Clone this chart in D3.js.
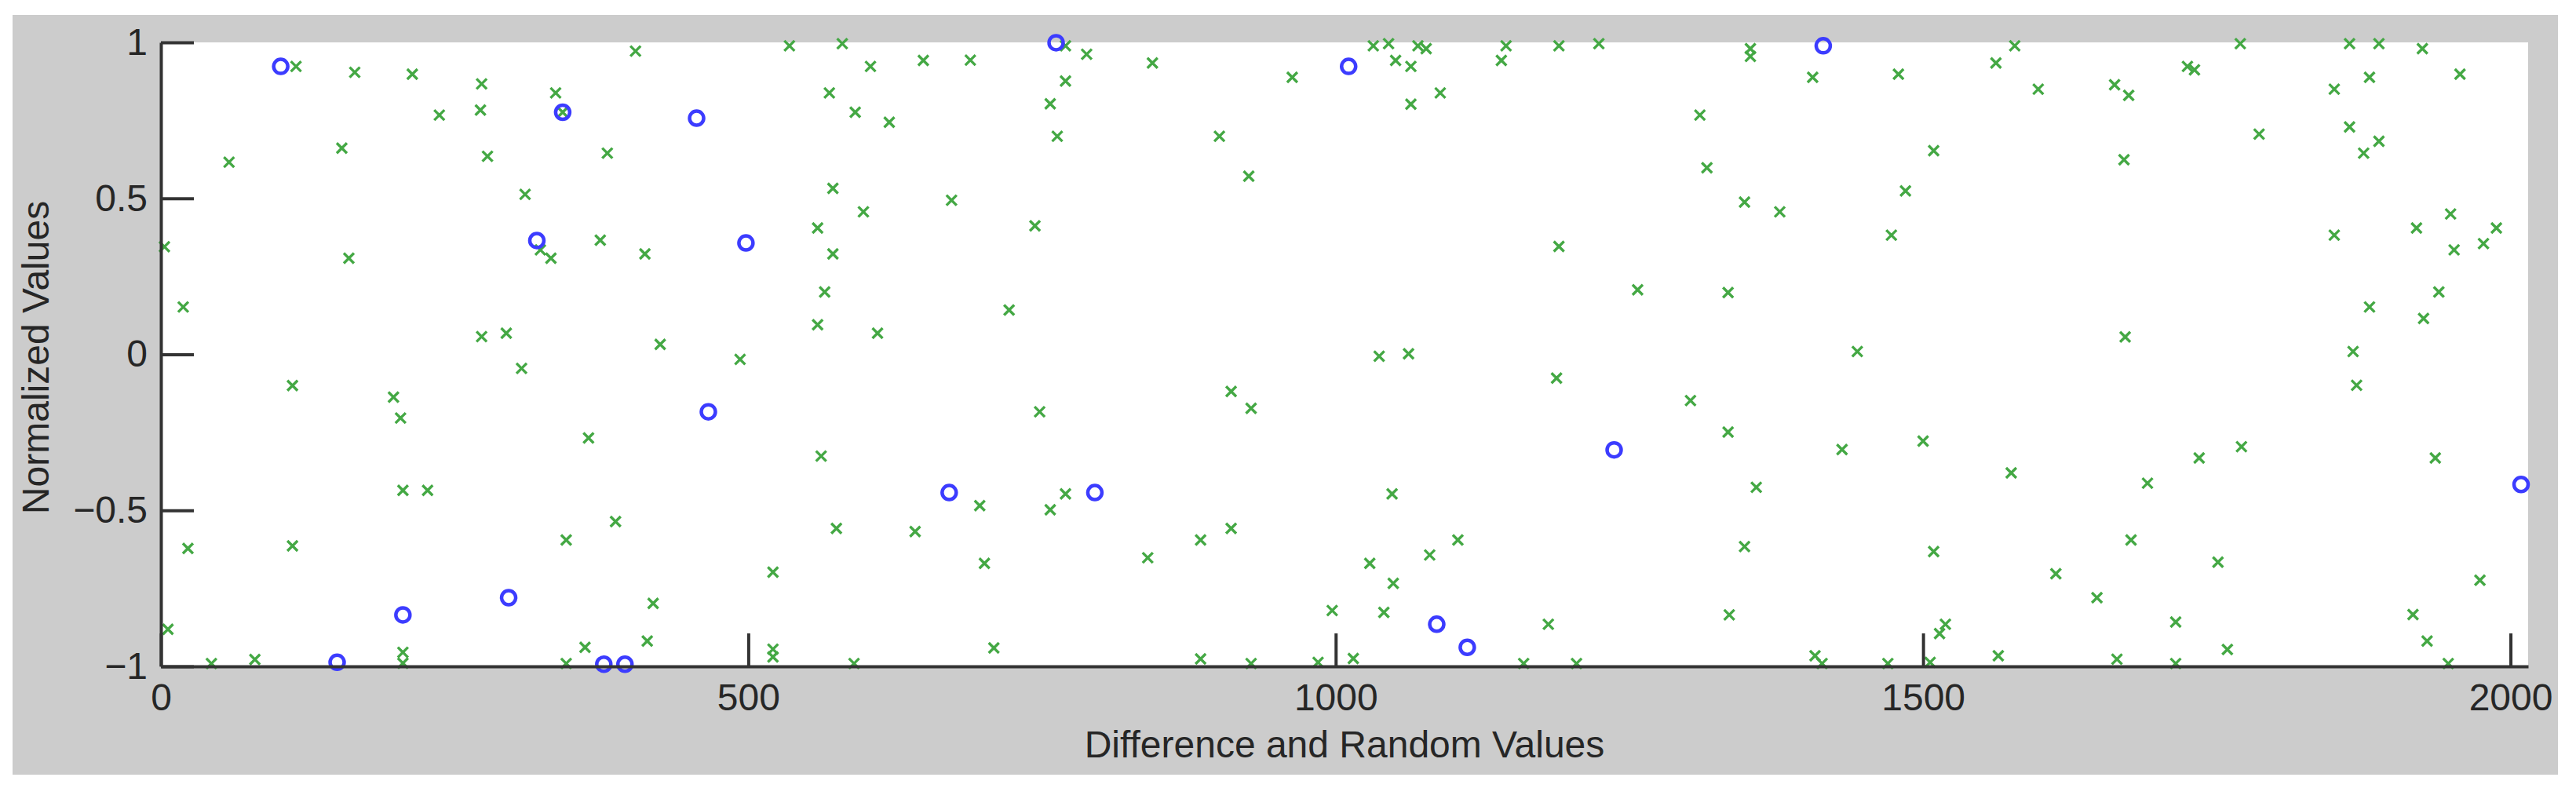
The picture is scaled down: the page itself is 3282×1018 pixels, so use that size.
<!DOCTYPE html>
<html>
<head>
<meta charset="utf-8">
<script src="https://cdn.jsdelivr.net/npm/d3@7"></script>
<style>
  body { margin: 0; background: #ffffff; }
  .tick text, .axisText { font-family: "Liberation Sans", Arial, sans-serif; fill: #262626; }
</style>
</head>
<body>
<div id="scatter"></div>
<script>
// Green "x" series: index and normalized value
var greenX = [115, 165, 214, 273, 336, 237, 272, 154, 58, 278, 310, 3, 160, 323, 332, 19, 273, 294, 307, 112,
  198, 204, 206, 227, 23, 112, 6, 43, 80, 206, 206,
  404, 535, 580, 604, 649, 569, 591, 620, 380, 572, 598, 673, 559, 374, 412, 572, 565, 559, 610, 425,
  493, 364, 562, 387, 345, 575, 642, 521, 419, 414, 361, 345, 521, 521, 590, 342,
  689, 770, 788, 844, 963, 770, 757, 763, 901, 926, 744, 722, 748, 911, 928, 697, 757, 770, 911, 885,
  840, 701, 997, 709, 885, 928, 985, 1015,
  1032, 1045, 1070, 1077, 1145, 1190, 1224, 1051, 1064, 1141, 1089, 1064, 1310, 1316, 1348, 1190, 1257, 1334,
  1037, 1062, 1188, 1302, 1334, 1048, 1104, 1080, 1029, 1049, 1041, 1181, 1335, 1348, 1160, 1205,
  1353, 1353, 1406, 1479, 1562, 1578, 1598, 1663, 1675, 1509, 1671, 1485, 1378, 1473, 1672, 1444, 1431, 1500,
  1358, 1575, 1509, 1677, 1613, 1648, 1519, 1514, 1408, 1414, 1470, 1506, 1564, 1665,
  1770, 1863, 1888, 1925, 1725, 1731, 1880, 1957, 1850, 1786, 1863, 1888, 1875, 1949, 1920, 1988, 1850, 1952,
  1977, 1939, 1880, 1926, 1866, 1869, 1771, 1735, 1936, 1691, 1751, 1974, 1917, 1715, 1929, 1759, 1715, 1947];

var greenY = [0.923, 0.904, 0.898, 0.867, 0.838, 0.767, 0.783, 0.661, 0.616, 0.635, 0.513, 0.345, 0.308, 0.335, 0.308, 0.152, 0.057, 0.068, -0.045, -0.100,
  -0.137, -0.204, -0.436, -0.436, -0.622, -0.614, -0.881, -0.991, -0.978, -0.955, -0.990,
  0.972, 0.989, 0.996, 0.923, 0.942, 0.838, 0.776, 0.744, 0.645, 0.532, 0.457, 0.494, 0.405, 0.366, 0.322, 0.322, 0.200, 0.095, 0.068, 0.032,
  -0.016, -0.268, -0.326, -0.536, -0.595, -0.558, -0.568, -0.698, -0.798, -0.919, -0.939, -0.991, -0.945, -0.970, -0.991, 0.776,
  0.943, 0.989, 0.962, 0.934, 0.888, 0.876, 0.803, 0.699, 0.699, 0.571, 0.412, 0.142, -0.184, -0.119, -0.173, -0.485, -0.498, -0.447, -0.558, -0.595,
  -0.652, -0.670, -0.821, -0.941, -0.976, -0.991, -0.987, -0.975,
  0.989, 0.996, 0.989, 0.980, 0.989, 0.989, 0.996, 0.942, 0.923, 0.942, 0.838, 0.802, 0.767, 0.598, 0.488, 0.346, 0.207, 0.198,
  -0.006, 0.002, -0.076, -0.148, -0.249, -0.447, -0.595, -0.643, -0.670, -0.734, -0.827, -0.865, -0.835, -0.616, -0.991, -0.991,
  0.980, 0.955, 0.888, 0.898, 0.934, 0.989, 0.850, 0.864, 0.830, 0.653, 0.624, 0.524, 0.457, 0.382, 0.056, 0.009, -0.305, -0.278,
  -0.426, -0.380, -0.632, -0.595, -0.703, -0.780, -0.865, -0.895, -0.966, -0.991, -0.991, -0.987, -0.966, -0.977,
  0.996, 0.996, 0.996, 0.980, 0.923, 0.912, 0.888, 0.898, 0.850, 0.706, 0.729, 0.683, 0.645, 0.450, 0.405, 0.405, 0.382, 0.335,
  0.355, 0.200, 0.152, 0.115, 0.009, -0.099, -0.296, -0.332, -0.332, -0.413, -0.666, -0.724, -0.834, -0.858, -0.919, -0.946, -0.991, -0.991];

// Blue "o" series
var blueX = [102, 320, 206, 296, 150, 342, 456, 498, 466, 671, 377, 395, 762, 795, 1011, 1237, 1086, 1112, 1415, 2009];
var blueY = [0.923, 0.365, -0.835, -0.780, -0.987, 0.776, 0.757, 0.357, -0.184, -0.443, -0.993, -0.993, 0.999, -0.443, 0.923, -0.306, -0.865, -0.939, 0.989, -0.417];

// Axis ticks and labels
var xTicks = [0, 500, 1000, 1500, 2000];
var yTicks = [-1, -0.5, 0, 0.5, 1];
var xLabel = "Difference and Random Values";
var yLabel = "Normalized Values";

// Set up size of the svg and the plot box inside it
var svgWidth = 3282;
var svgHeight = 1018;

var margin = {
    top: 54,
    right: 61,
    bottom: 169,
    left: 205
};

var chartWidth = svgWidth - margin.left - margin.right;
var chartHeight = svgHeight - margin.top - margin.bottom;

var svg = d3.select("#scatter")
    .append("svg")
    .attr("width", svgWidth)
    .attr("height", svgHeight);

// grey figure background
svg.append("rect")
    .attr("x", 16)
    .attr("y", 19)
    .attr("width", 3243)
    .attr("height", 968)
    .attr("fill", "#cccccc");

var chartGroup = svg.append("g")
    .attr("transform", `translate(${margin.left}, ${margin.top})`);

// white plot area
chartGroup.append("rect")
    .attr("width", chartWidth)
    .attr("height", chartHeight)
    .attr("fill", "#ffffff");

// scales
var xLinearScale = d3.scaleLinear()
    .domain([0, 2015])
    .range([0, chartWidth]);

var yLinearScale = d3.scaleLinear()
    .domain([-1, 1])
    .range([chartHeight, 0]);

var greenData = greenX.map((d, i) => ({x: d, y: greenY[i]}));
var blueData = blueX.map((d, i) => ({x: d, y: blueY[i]}));

// green x markers
var s = 6.5;
chartGroup.selectAll("path.xmark")
    .data(greenData)
    .enter()
    .append("path")
    .classed("xmark", true)
    .attr("transform", d => `translate(${xLinearScale(d.x)}, ${yLinearScale(d.y)})`)
    .attr("d", `M${-s},${-s}L${s},${s}M${-s},${s}L${s},${-s}`)
    .attr("stroke", "#44a844")
    .attr("stroke-width", 3.4)
    .attr("fill", "none");

// blue circles
chartGroup.selectAll("circle")
    .data(blueData)
    .enter()
    .append("circle")
    .attr("cx", d => xLinearScale(d.x))
    .attr("cy", d => yLinearScale(d.y))
    .attr("r", 9)
    .attr("fill", "none")
    .attr("stroke", "#3c3cff")
    .attr("stroke-width", 4.5);

// axes, ticks pointing inward
var bottomAxis = d3.axisBottom(xLinearScale)
    .tickValues(xTicks)
    .tickSizeInner(-42)
    .tickSizeOuter(0)
    .tickPadding(22)
    .tickFormat(d3.format("d"));

var leftAxis = d3.axisLeft(yLinearScale)
    .tickValues(yTicks)
    .tickSizeInner(-42)
    .tickSizeOuter(0)
    .tickPadding(17)
    .tickFormat(d3.format("~g"));

var xAxisG = chartGroup.append("g")
    .attr("transform", `translate(0, ${chartHeight})`)
    .call(bottomAxis);

var yAxisG = chartGroup.append("g")
    .call(leftAxis);

[xAxisG, yAxisG].forEach(function(g) {
    g.select(".domain").attr("stroke", "#333333").attr("stroke-width", 4);
    g.selectAll(".tick line").attr("stroke", "#333333").attr("stroke-width", 4);
    g.selectAll(".tick text").style("font-size", "48px");
});

// axis labels
chartGroup.append("text")
    .attr("class", "axisText")
    .attr("transform", "rotate(-90)")
    .attr("x", 0 - (chartHeight / 2) - 4)
    .attr("y", 45 - margin.left)
    .attr("text-anchor", "middle")
    .attr("dominant-baseline", "central")
    .style("font-size", "48px")
    .text(yLabel);

chartGroup.append("text")
    .attr("class", "axisText")
    .attr("x", chartWidth / 2)
    .attr("y", chartHeight + 99)
    .attr("text-anchor", "middle")
    .attr("dominant-baseline", "central")
    .style("font-size", "48px")
    .text(xLabel);
</script>
</body>
</html>
